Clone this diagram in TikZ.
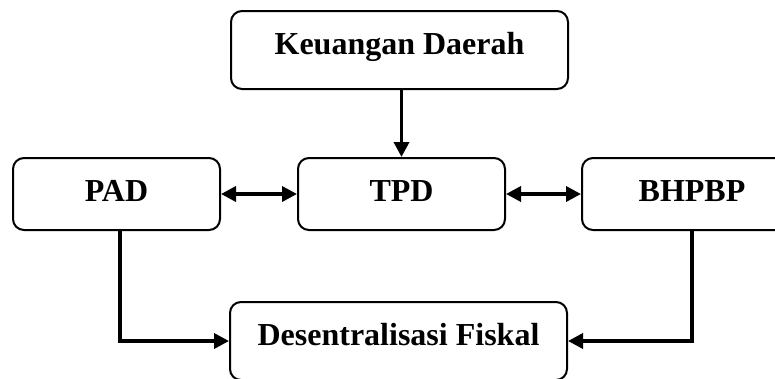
\documentclass[tikz,border=0pt]{standalone}
\usepackage{fontspec}
\setmainfont{Liberation Serif}
\usetikzlibrary{arrows.meta}
\tikzset{
  box/.style={draw=black, line width=2pt, rounded corners=11pt, inner sep=0pt,
    font=\fontsize{32}{38}\selectfont\bfseries, text height=43pt, align=center},
  conn/.style={line width=3.5pt, -{Triangle[length=15pt,width=15pt]}},
  biconn/.style={line width=3.5pt, {Triangle[length=15pt,width=15pt]}-{Triangle[length=15pt,width=15pt]}}
}
\begin{document}
\begin{tikzpicture}[x=1pt,y=-1pt]
\useasboundingbox (0,0) rectangle (775,378);
\node[box, minimum width=337pt, text depth=35pt] (KD) at (399.5,50) {Keuangan Daerah};
\node[box, minimum width=207pt, text depth=29pt] (PAD) at (116.5,194) {PAD};
\node[box, minimum width=207pt, text depth=29pt] (TPD) at (401.5,194) {TPD};
\node[box, minimum width=220pt, text depth=29pt] (BH) at (692,194) {BHPBP};
\node[box, minimum width=337pt, text depth=35pt] (DF) at (398.5,341) {Desentralisasi Fiskal};
\draw[conn] (KD.south -| TPD.north) -- (TPD.north);
\draw[biconn] (PAD.east) -- (TPD.west);
\draw[biconn] (TPD.east) -- (BH.west);
\draw[conn, rounded corners=0pt] ([xshift=3.5pt]PAD.south) |- (DF.west);
\draw[conn, rounded corners=0pt] (BH.south) |- (DF.east);
\end{tikzpicture}
\end{document}
